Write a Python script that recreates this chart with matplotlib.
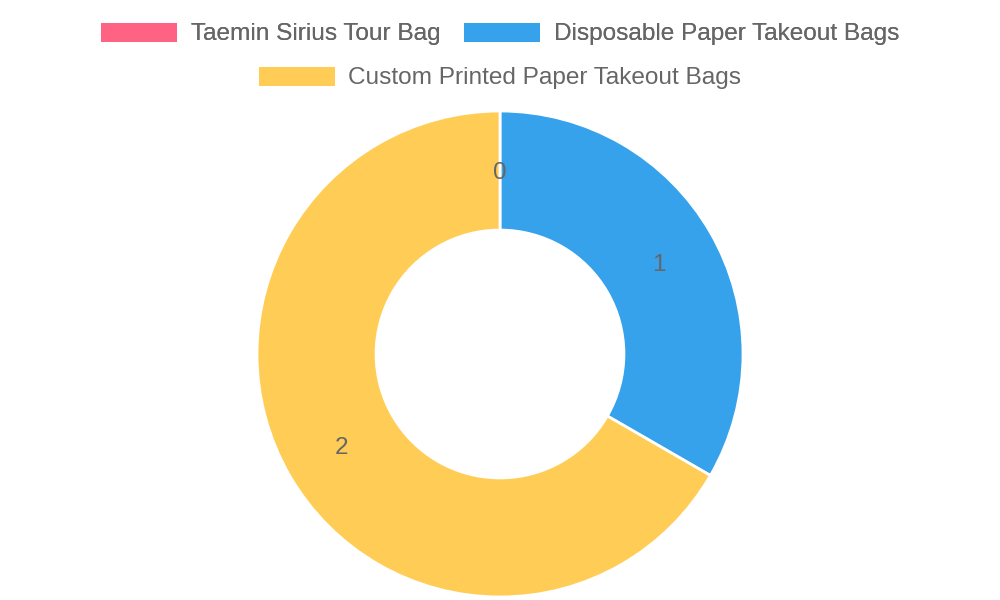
import numpy as np
from matplotlib import pyplot as plt
from matplotlib.patches import Patch

labels = ['Taemin Sirius Tour Bag', 'Disposable Paper Takeout Bags', 'Custom Printed Paper Takeout Bags']
values = [0, 1, 2]
colors = ['#FF6384', '#36A2EB', '#FFCD56']

plt.rcParams['font.family'] = ['Liberation Sans', 'DejaVu Sans']

fig = plt.figure(figsize=(10, 6), dpi=100)
ax = fig.add_axes([0.257, 0.005, 0.486, 0.81])
ax.pie(values, colors=colors, startangle=90, counterclock=False, radius=1,
       wedgeprops=dict(width=0.49, edgecolor='white', linewidth=2))
ax.set_xlim(-1, 1)
ax.set_ylim(-1, 1)
ax.set_aspect('equal')
ax.axis('off')

# value labels in the middle of each ring segment
total = sum(values)
start = 0
r_mid = 1 - 0.49 / 2
for i, v in enumerate(values):
    mid = (start + v / 2) / total * 2 * np.pi
    ax.text(r_mid * np.sin(mid), r_mid * np.cos(mid), str(i), ha='center', va='center_baseline',
            fontsize=17.5, color='#666666')
    start += v

handles = [Patch(facecolor=c, edgecolor='none') for c in colors]
leg_kw = dict(frameon=False, fontsize=17.6, labelcolor='#666666', handlelength=3.11,
              handleheight=0.82, handletextpad=0.57, columnspacing=0.95, borderpad=0,
              borderaxespad=0)
leg1 = fig.legend(handles[:2], labels[:2], ncol=2, loc='center', bbox_to_anchor=(0.5, 1 - 34 / 600), **leg_kw)
fig.add_artist(leg1)
fig.legend(handles[2:], labels[2:], ncol=1, loc='center', bbox_to_anchor=(0.5, 1 - 78 / 600), **leg_kw)

fig.savefig('out.png', dpi=100)
